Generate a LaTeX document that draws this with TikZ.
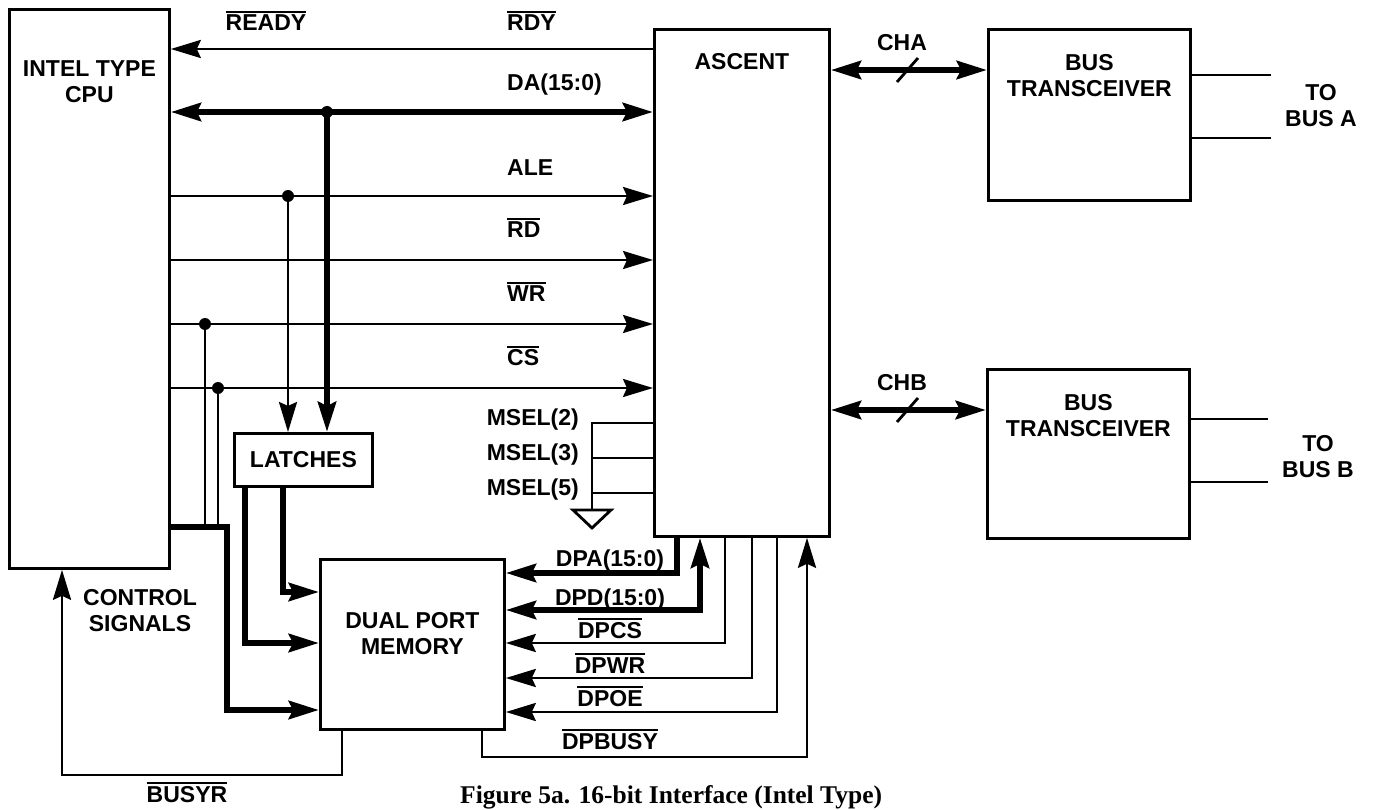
\documentclass[tikz,border=0pt]{standalone}
\usepackage{fontspec}
\setmainfont{Liberation Sans}
\newfontfamily\capfont{Liberation Serif}
\usetikzlibrary{arrows.meta,calc,positioning}
\newcommand\ovl[1]{\vbox{\hrule height 1.6pt\kern 2.2pt\hbox{#1}}}

\begin{document}
\begin{tikzpicture}[x=1pt,y=-1pt,font=\fontsize{23}{26}\selectfont\bfseries,
 blk/.style={draw,line width=2.8pt,inner sep=0pt,anchor=north west},
 txt/.style={align=center,inner sep=0pt},
 lbl/.style={inner sep=0pt,anchor=base},
 sig/.style={line width=2.8pt},
 bus/.style={line width=6pt},
 tip/.style={-{Stealth[length=30pt,width=18pt,inset=4pt]}},
 tips/.style={{Stealth[length=30pt,width=18pt,inset=4pt]}-{Stealth[length=30pt,width=18pt,inset=4pt]}}]
\useasboundingbox (0,0) rectangle (1374,810);
% blocks
\node[blk,minimum width=160,minimum height=559] (cpu) at (8,8) {};
\node[blk,minimum width=175,minimum height=507] (asc) at (653,28) {};
\node[blk,minimum width=202,minimum height=171] (bta) at (987,28) {};
\node[blk,minimum width=202,minimum height=169] (btb) at (986,368) {};
\node[blk,minimum width=138,minimum height=53] (latch) at (233,432) {LATCHES};
\node[blk,minimum width=184,minimum height=170] (dpm) at (319,558) {};
\node[txt,below=52pt of cpu.north] (cpulbl) {INTEL TYPE\\CPU};
\node[txt,below=25pt of asc.north] (asclbl) {ASCENT};
\node[txt,below=26pt of bta.north] (btalbl) {BUS\\TRANSCEIVER};
\node[txt,below=26pt of btb.north] (btblbl) {BUS\\TRANSCEIVER};
\node[txt,below=54pt of dpm.north] (dpmlbl) {DUAL PORT\\MEMORY};
\node[txt] (tobusa) at (1321,106) {TO\\BUS A};
\node[txt] (tobusb) at (1318,457) {TO\\BUS B};
\node[txt] (ctrl) at (140,611) {CONTROL\\SIGNALS};

% signal rows
\coordinate (yrdy) at (0,49);
\coordinate (yda) at (0,112);
\coordinate (yale) at (0,196);
\coordinate (yrd) at (0,260);
\coordinate (ywr) at (0,324);
\coordinate (ycs) at (0,388);
\coordinate (ycb) at (0,527);
\coordinate (jda) at (327,112);
\coordinate (jale) at (288,196);
\coordinate (jwr) at (205,324);
\coordinate (jcs) at (218,388);
\coordinate (cbend) at (227,710);
\coordinate (l1) at (245,643);
\coordinate (l2) at (283,592);

\draw[sig,tip] (asc.west |- yrdy) -- (cpu.east |- yrdy);
\draw[bus,tips] (cpu.east |- yda) -- (asc.west |- yda);
\foreach \s in {yale,yrd,ywr,ycs}
  \draw[sig,tip] (cpu.east |- \s) -- (asc.west |- \s);
\draw[bus,tip] (jda) -- (jda |- latch.north);
\draw[sig,tip] (jale) -- (jale |- latch.north);
\draw[sig] (jwr) -- (jwr |- ycb);
\draw[sig] (jcs) -- (jcs |- ycb);
\foreach \j in {jda,jale,jwr,jcs} \fill (\j) circle[radius=6];
\draw[bus,tip] (cpu.east |- ycb) -| (cbend) -- (cbend -| dpm.west);
\draw[bus,tip] (l1 |- latch.south) -- (l1) -- (l1 -| dpm.west);
\draw[bus,tip] (l2 |- latch.south) -- (l2) -- (l2 -| dpm.west);

\node[lbl] (lready) at (266,31) {\ovl{READY}};
\node[lbl,anchor=base west] (lrdy) at (507,31) {\ovl{RDY}};
\node[lbl,anchor=base west] (lda) at (507,91) {DA(15:0)};
\node[lbl,anchor=base west] (lale) at (507,176) {ALE};
\node[lbl,anchor=base west] (lrd) at (507,238) {\ovl{RD}};
\node[lbl,anchor=base west] (lwr) at (507,302) {\ovl{WR}};
\node[lbl,anchor=base west] (lcs) at (507,366) {\ovl{CS}};

% channels
\coordinate (cha) at (907,70);
\coordinate (chb) at (907,410);
\draw[bus,tips] (asc.east |- cha) -- (bta.west |- cha);
\draw[bus,tips] (asc.east |- chb) -- (btb.west |- chb);
\draw[sig] (cha) ++(-10,12) -- ++(21,-24);
\draw[sig] (chb) ++(-10,12) -- ++(21,-24);
\node[lbl] (lcha) at (902,51) {CHA};
\node[lbl] (lchb) at (902,391) {CHB};
\coordinate (ta1) at (1271,75);
\coordinate (ta2) at (1271,138);
\coordinate (tb1) at (1268,419);
\coordinate (tb2) at (1268,482);
\draw[sig] (bta.east |- ta1) -- (ta1);
\draw[sig] (bta.east |- ta2) -- (ta2);
\draw[sig] (btb.east |- tb1) -- (tb1);
\draw[sig] (btb.east |- tb2) -- (tb2);

% mode select straps
\coordinate (ms2) at (592,423);
\coordinate (ms3) at (592,458);
\coordinate (ms5) at (592,493);
\coordinate (gnd) at (592,510);
\draw[sig] (asc.west |- ms2) -- (ms2) -- (gnd);
\draw[sig] (asc.west |- ms3) -- (ms3);
\draw[sig] (asc.west |- ms5) -- (ms5);
\draw[sig] (gnd) ++(-19,0) -- ++(38,0) -- ++(-19,18) -- cycle;
\node[lbl,anchor=base east] (lms2) at (579,425) {MSEL(2)};
\node[lbl,anchor=base east] (lms3) at (579,460) {MSEL(3)};
\node[lbl,anchor=base east] (lms5) at (579,495) {MSEL(5)};

% dual port memory side
\coordinate (dpa) at (677,573);
\coordinate (dpd) at (700,610);
\coordinate (dpcs) at (725,643);
\coordinate (dpwr) at (752,678);
\coordinate (dpoe) at (777,712);
\coordinate (bsy0) at (482,757);
\coordinate (bsy1) at (807,757);
\coordinate (br0) at (342,775);
\coordinate (br1) at (62,775);
\draw[bus,tip] (asc.south -| dpa) -- (dpa) -- (dpa -| dpm.east);
\draw[bus,tips] (dpm.east |- dpd) -- (dpd) -- (asc.south -| dpd);
\foreach \c in {dpcs,dpwr,dpoe}
  \draw[sig,tip] (asc.south -| \c) -- (\c) -- (\c -| dpm.east);
\draw[sig,tip] (dpm.south -| bsy0) -- (bsy0) -- (bsy1) -- (asc.south -| bsy1);
\draw[sig,tip] (dpm.south -| br0) -- (br0) -- (br1) -- (cpu.south -| br1);
\node[lbl] (ldpa) at (610,566) {DPA(15:0)};
\node[lbl] (ldpd) at (610,605) {DPD(15:0)};
\node[lbl] (ldpcs) at (610,638) {\ovl{DPCS}};
\node[lbl] (ldpwr) at (610,673) {\ovl{DPWR}};
\node[lbl] (ldpoe) at (610,706) {\ovl{DPOE}};
\node[lbl] (ldpbsy) at (610,749) {\ovl{DPBUSY}};
\node[lbl] (lbusyr) at (187,802) {\ovl{BUSYR}};

\node[lbl,anchor=base west,font=\capfont\fontsize{25.5}{28}\selectfont\bfseries] (caption) at (460,803) {Figure 5a. 16-bit Interface (Intel Type)};
\end{tikzpicture}
\end{document}
